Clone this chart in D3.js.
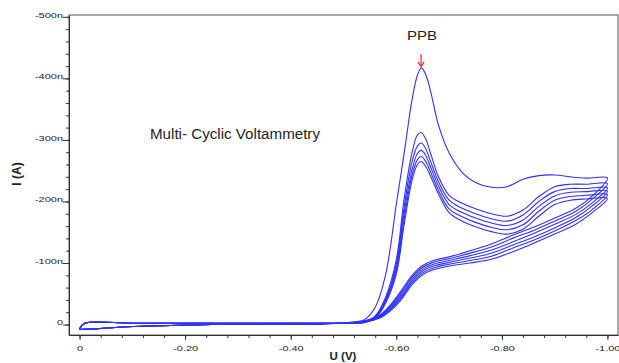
<!DOCTYPE html>
<html>
<head>
<meta charset="utf-8">
<script src="https://cdn.jsdelivr.net/npm/d3@7"></script>
<style>
body { margin: 0; background: #fff; }
text { font-family: "Liberation Sans", Arial, sans-serif; }
</style>
</head>
<body>
<script>
// potential (V): forward scan 0 -> -1.0, reverse scan -1.0 -> 0
var uFwd = [0, -0.01, -0.1, -0.2, -0.3, -0.4, -0.48, -0.52, -0.54, -0.56, -0.58, -0.60, -0.615, -0.63, -0.64, -0.647,
            -0.655, -0.665, -0.68, -0.70, -0.725, -0.75, -0.78, -0.81, -0.84, -0.87, -0.90, -0.93, -0.96, -1.0];
var uRev = [-1.0, -0.97, -0.94, -0.90, -0.86, -0.82, -0.78, -0.74, -0.70, -0.67, -0.65, -0.63, -0.61, -0.59,
            -0.57, -0.55, -0.52, -0.45, -0.35, -0.25, -0.15, -0.08, -0.03, 0];

// current (nA), one array per cycle and branch
var fwd1 = [7, -2, -2, -2, -2, -2, -2, -3, -8, -28, -82, -195, -279, -366, -405, -417, -408, -379, -324, -279, -247, -231, -223, -224, -236, -242, -243, -240, -238, -238];
var fwd2 = [7, -2, -2, -2, -2, -2, -2, -2, -5, -14, -45, -105, -205, -280, -308, -312, -303, -278, -240, -210, -197, -188, -180, -176, -186, -208, -224, -228, -228, -229];
var fwd3 = [7, -2, -2, -2, -2, -2, -2, -2, -4, -13, -42, -98, -192, -265, -290, -295, -287, -265, -232, -202, -189, -180, -172, -168, -178, -200, -216, -221, -221, -222];
var fwd4 = [7, -2, -2, -2, -2, -2, -2, -2, -4, -12, -40, -92, -182, -252, -278, -283, -276, -256, -225, -195, -182, -173, -165, -161, -170, -192, -209, -215, -216, -217];
var fwd5 = [7, -2, -2, -2, -2, -2, -2, -2, -4, -11, -38, -87, -172, -243, -268, -273, -266, -248, -218, -188, -175, -166, -158, -154, -162, -184, -202, -208, -210, -211];
var fwd6 = [7, -2, -2, -2, -2, -2, -2, -2, -3, -10, -35, -82, -163, -235, -260, -265, -258, -241, -212, -182, -168, -159, -151, -147, -155, -176, -195, -202, -204, -205];

var rev1 = [-238, -208, -189, -173, -158, -145, -131, -120, -110, -104, -96, -80, -56, -33, -16, -8, -4, -1, 0, 0, 2, 4, 7, 8];
var rev2 = [-229, -203, -184, -168, -153, -140, -126, -116, -107, -101, -93, -77, -53, -31, -15, -8, -4, -1, 0, 0, 2, 4, 7, 8];
var rev3 = [-222, -197, -179, -163, -148, -134, -121, -112, -104, -98, -90, -74, -50, -29, -14, -7, -3, -1, 0, 0, 2, 4, 7, 8];
var rev4 = [-217, -192, -174, -157, -142, -129, -116, -108, -101, -95, -87, -71, -47, -27, -13, -7, -3, -1, 0, 0, 2, 4, 7, 8];
var rev5 = [-211, -186, -169, -152, -137, -124, -111, -104, -98, -92, -84, -68, -44, -25, -12, -6, -3, -1, 0, 0, 2, 4, 7, 8];
var rev6 = [-205, -181, -163, -147, -132, -118, -106, -100, -95, -89, -81, -65, -41, -23, -11, -6, -3, -1, 0, 0, 2, 4, 7, 8];

var xTicks = [0, -0.2, -0.4, -0.6, -0.8, -1.0];
var xTickLabels = ["0", "-0.20", "-0.40", "-0.60", "-0.80", "-1.00"];
var yTicks = [-500, -400, -300, -200, -100, 0];
var yTickLabels = ["-500n", "-400n", "-300n", "-200n", "-100n", "0"];

var fwd = [fwd1, fwd2, fwd3, fwd4, fwd5, fwd6];
var rev = [rev1, rev2, rev3, rev4, rev5, rev6];

var window_w = 619, window_h = 363;
var frame = {left: 69, top: 15, right: 618, bottom: 335};

var xScale = d3.scaleLinear().domain([0.02, -1.02]).range([frame.left, frame.right]);
var yScale = d3.scaleLinear().domain([17, -503]).range([frame.bottom, frame.top]);

var svg = d3.select("body").append("svg").attr("width", window_w).attr("height", window_h);

// stretch small tick text horizontally like the original screenshot
function stretch(sel, k) {
    sel.each(function () {
        var w = this.getComputedTextLength();
        d3.select(this).attr("textLength", w * k).attr("lengthAdjust", "spacingAndGlyphs");
    });
}

svg.append("rect")
    .attr("x", frame.left).attr("y", frame.top)
    .attr("width", frame.right - frame.left).attr("height", frame.bottom - frame.top)
    .attr("fill", "none").attr("stroke", "#555").attr("stroke-width", 1);

// minor ticks
svg.append("g")
    .attr("transform", "translate(" + frame.left + ",0)")
    .call(d3.axisLeft(yScale).tickValues(d3.range(0, -501, -20)).tickSize(3).tickSizeOuter(0).tickFormat(""))
    .call(function (g) { g.select(".domain").remove(); g.selectAll("line").attr("stroke", "#333"); });
svg.append("g")
    .attr("transform", "translate(0," + frame.bottom + ")")
    .call(d3.axisBottom(xScale).tickValues(d3.range(0, -1.001, -0.04)).tickSize(3).tickSizeOuter(0).tickFormat(""))
    .call(function (g) { g.select(".domain").remove(); g.selectAll("line").attr("stroke", "#333"); });

var yAxisG = svg.append("g")
    .attr("class", "y axis")
    .attr("transform", "translate(" + frame.left + ",0)")
    .call(d3.axisLeft(yScale).tickValues(yTicks).tickSize(6).tickPadding(0).tickSizeOuter(0)
        .tickFormat(function (d, i) { return yTickLabels[i]; }));
yAxisG.select(".domain").attr("stroke", "#333");
yAxisG.selectAll("line").attr("stroke", "#333");
yAxisG.selectAll("text").attr("font-size", 8).attr("dy", "0.05em").attr("fill", "#222")
    .attr("font-family", "Liberation Sans, Arial, sans-serif");
stretch(yAxisG.selectAll("text"), 1.37);

var xAxisG = svg.append("g")
    .attr("class", "x axis")
    .attr("transform", "translate(0," + frame.bottom + ")")
    .call(d3.axisBottom(xScale).tickValues(xTicks).tickSize(5).tickPadding(5).tickSizeOuter(0)
        .tickFormat(function (d, i) { return xTickLabels[i]; }));
xAxisG.select(".domain").attr("stroke", "#333");
xAxisG.selectAll("line").attr("stroke", "#333");
xAxisG.selectAll("text").attr("font-size", 8).attr("fill", "#222")
    .attr("font-family", "Liberation Sans, Arial, sans-serif");
stretch(xAxisG.selectAll("text"), 1.37);

// axis titles
svg.append("text")
    .attr("transform", "translate(21,174) rotate(-90)")
    .attr("text-anchor", "middle")
    .attr("font-size", 12).attr("font-weight", "bold").attr("fill", "#222")
    .text("I (A)");
svg.append("text")
    .attr("x", 343).attr("y", 359.5)
    .attr("text-anchor", "middle")
    .attr("font-size", 11.5).attr("font-weight", "bold").attr("fill", "#222")
    .text("U (V)");

// cycles
var line = d3.line()
    .x(function (d) { return xScale(d[0]); })
    .y(function (d) { return yScale(d[1]); })
    .curve(d3.curveCatmullRom.alpha(0.5));

for (var c = 0; c < fwd.length; c++) {
    var pts = uFwd.map(function (u, j) { return [u, fwd[c][j]]; })
        .concat(uRev.slice(1).map(function (u, j) { return [u, rev[c][j + 1]]; }));
    svg.append("path")
        .attr("class", "blue")
        .attr("d", line(pts))
        .attr("fill", "none")
        .attr("stroke", "#3030ff")
        .attr("stroke-width", 1.1);
}

// annotations
var peakI = d3.min(fwd1);
var peakU = uFwd[fwd1.indexOf(peakI)];
var ax = xScale(peakU), ay = yScale(peakI) - 1;
svg.append("path")
    .attr("d", "M" + ax + "," + (ay - 13) + "V" + ay + "M" + (ax - 3) + "," + (ay - 5) + "L" + ax + "," + ay + "L" + (ax + 3) + "," + (ay - 5))
    .attr("fill", "none").attr("stroke", "#e8303a").attr("stroke-width", 1.2);

svg.append("text")
    .attr("x", ax + 1).attr("y", 39.5)
    .attr("text-anchor", "middle")
    .attr("font-size", 13).attr("fill", "#222")
    .attr("textLength", 30).attr("lengthAdjust", "spacingAndGlyphs")
    .text("PPB");

svg.append("text")
    .attr("x", 150).attr("y", 138.5)
    .attr("font-size", 14).attr("fill", "#222")
    .attr("textLength", 170).attr("lengthAdjust", "spacingAndGlyphs")
    .text("Multi- Cyclic Voltammetry");
</script>
</body>
</html>
